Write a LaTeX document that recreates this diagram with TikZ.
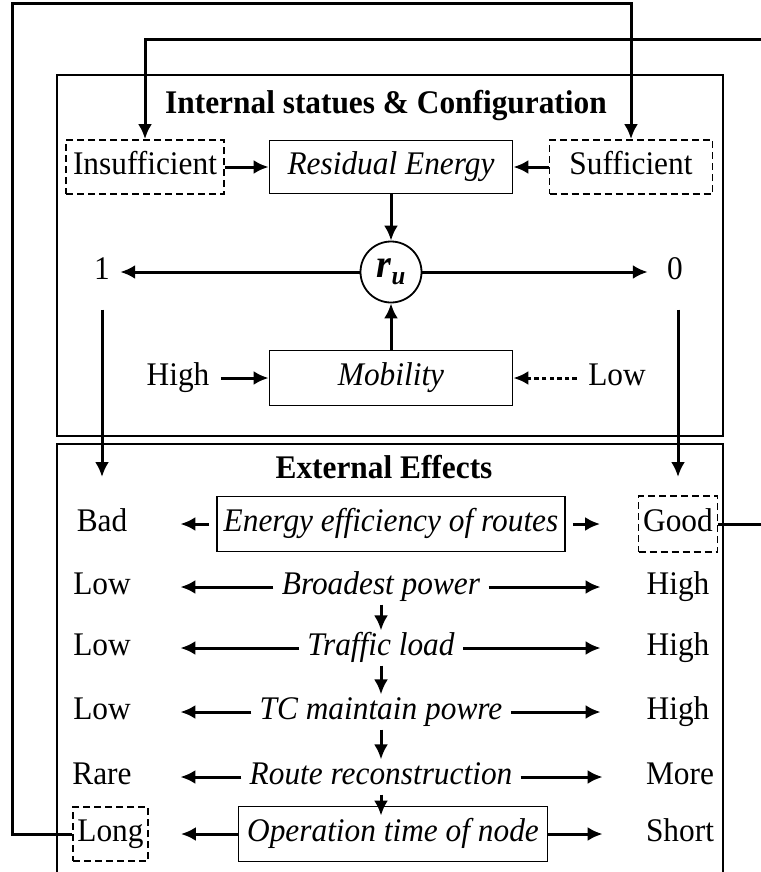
\documentclass[tikz,border=0pt]{standalone}
\usepackage{fontspec}
\setmainfont[FakeStretch=0.95]{Liberation Serif}
\usetikzlibrary{arrows.meta}

\tikzset{
  conn/.style={line width=1.5pt,-{Latex[length=7.5pt,width=7pt]}},
  plainbox/.style={draw,line width=0.9pt,inner sep=1pt,text height=0.7em,text depth=0.22em},
  dashbox/.style={plainbox,dash pattern=on 3.5pt off 2pt},
  midtext/.style={inner xsep=4pt,inner ysep=1pt,text height=0.7em,text depth=0.22em,font=\itshape},
  leftlbl/.style={inner sep=0pt,minimum width=78pt,text height=0.7em,text depth=0.22em},
  rightlbl/.style={inner sep=0pt,minimum width=77pt,text height=0.7em,text depth=0.22em},
  sidetext/.style={text height=0.7em,text depth=0.22em}
}

\begin{document}
\fontsize{16.5}{19}\selectfont
\begin{tikzpicture}[x=0.5pt,y=-0.5pt]
  \useasboundingbox (0,0) rectangle (760,872);

  \def\boxh{27.5pt}% box height
  \def\midx{391}% middle column
  \def\rowx{381}% middle of the row texts

  % frames
  \draw[line width=0.8pt] (57,75) rectangle (723,436);
  \draw[line width=0.8pt] (57,872) |- (723,444) -- (723,872);

  % internal part
  \node[font=\bfseries] (intitle) at (386,106) {Internal statues \& Configuration};
  \node[dashbox,minimum width=79pt,minimum height=27pt] (insuf) at (145,167) {Insufficient};
  \node[plainbox,font=\itshape,minimum width=121.5pt,minimum height=26.5pt] (resid) at (\midx,167) {Residual Energy};
  \node[dashbox,minimum width=81.5pt,minimum height=27pt] (suf) at (631,167) {Sufficient};
  \node[circle,draw,line width=0.9pt,minimum size=30.5pt,inner sep=0pt] (ru) at (\midx,272)
    {\fontsize{20}{20}\selectfont\bfseries\itshape r\raisebox{-0.4ex}{\fontsize{13}{13}\selectfont u}};
  \node[sidetext,inner sep=5pt] (one) at (102,272) {1};
  \node[sidetext,inner sep=5pt,inner xsep=9.5pt] (zero) at (675,272) {0};
  \node[plainbox,font=\itshape,minimum width=121.5pt,minimum height=\boxh] (mob) at (\midx,378) {Mobility};
  \node[sidetext] (high) at (178,378) {High};
  \node[sidetext] (lowm) at (617,378) {Low};

  \draw[conn] (insuf) -- (resid);
  \draw[conn] (suf) -- (resid);
  \draw[conn] (resid) -- (ru);
  \draw[conn] (mob) -- (ru);
  \draw[conn] (ru) -- (one);
  \draw[conn] (ru) -- (zero);
  \draw[conn] (high) -- (mob);
  \draw[conn,dash pattern=on 2.2pt off 1.6pt] (lowm) -- (mob);

  \coordinate (onedown) at (102,477);
  \coordinate (zerodown) at (678,477);
  \draw[conn,shorten <=6pt] (one) -- (onedown);
  \draw[conn,shorten <=6pt] (zero.south -| zerodown) -- (zerodown);

  % external part
  \node[font=\bfseries] (extitle) at (384,467) {External Effects};

  \node[leftlbl] (bad) at (102,524) {Bad};
  \node[plainbox,font=\itshape,minimum width=174pt,minimum height=\boxh] (eff) at (\midx,524) {Energy efficiency of routes};
  \node[dashbox,minimum width=39.5pt,minimum height=28pt] (good) at (678,524) {Good};

  \node[leftlbl] (lowa) at (102,587) {Low};
  \node[midtext] (bp) at (\rowx,587) {Broadest power};
  \node[rightlbl] (higha) at (678,587) {High};

  \node[leftlbl] (lowb) at (102,648) {Low};
  \node[midtext] (tl) at (\rowx,648) {Traffic load};
  \node[rightlbl] (highb) at (678,648) {High};

  \node[leftlbl] (lowc) at (102,712) {Low};
  \node[midtext] (tc) at (\rowx,712) {TC maintain powre};
  \node[rightlbl] (highc) at (678,712) {High};

  \node[leftlbl] (rare) at (102,777) {Rare};
  \node[midtext] (rr) at (\rowx,777) {Route reconstruction};
  \node[rightlbl] (more) at (680,777) {More};

  \node[dashbox,minimum width=37.5pt,minimum height=27pt] (long) at (110.5,834) {Long};
  \node[plainbox,font=\itshape,minimum width=154.5pt,minimum height=\boxh] (optime) at (393,834) {Operation time of node};
  \node[rightlbl] (short) at (680,834) {Short};

  \draw[conn,shorten <=3.5pt] (eff) -- (bad);
  \draw[conn,shorten <=3.5pt,shorten >=18.75pt] (eff) -- (good);
  \foreach \m/\l/\r in {bp/lowa/higha,tl/lowb/highb,tc/lowc/highc,rr/rare/more}{
    \draw[conn] (\m) -- (\l);
    \draw[conn] (\m) -- (\r);
  }
  \draw[conn,shorten >=16pt] (optime) -- (long);
  \draw[conn] (optime) -- (short);

  \foreach \a/\b in {bp/tl,tl/tc,tc/rr}{
    \draw[conn] (\a) -- (\b);
  }
  \draw[conn,shorten >=-5pt] (rr) -- (rr |- optime.north);

  % feedback lines
  \coordinate (farleft) at (12,4);
  \coordinate (farright) at (763,40);
  \draw[conn] (long) -| (farleft) -| (suf);
  \draw[conn] (good) -| (farright) -| (insuf);
\end{tikzpicture}
\end{document}
